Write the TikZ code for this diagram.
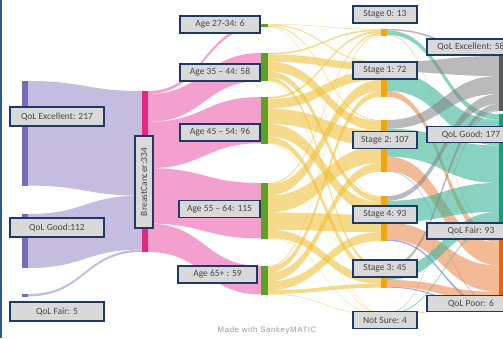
\documentclass[tikz,border=0pt]{standalone}
\usepackage{fontspec}
\setmainfont{Carlito}
\newfontfamily\sankeyfont[LetterSpace=8]{Liberation Sans}
\usepackage{tikz}
% couleurs du diagramme
\definecolor{cadre}{RGB}{31,56,100}
\definecolor{fond}{RGB}{217,217,217}
\definecolor{texte}{RGB}{70,70,70}
\definecolor{bord}{RGB}{47,85,151}
\definecolor{mauve}{RGB}{120,108,178}
\definecolor{lavande}{RGB}{196,189,224}
\definecolor{fuchsia}{RGB}{228,40,128}
\definecolor{rose}{RGB}{238,120,185}
\definecolor{vert}{RGB}{92,160,40}
\definecolor{jaune}{RGB}{238,188,45}
\definecolor{ambre}{RGB}{236,168,16}
\definecolor{gris}{RGB}{130,130,130}
\definecolor{grisfonce}{RGB}{90,90,90}
\definecolor{turquoise}{RGB}{60,180,150}
\definecolor{emeraude}{RGB}{24,158,118}
\definecolor{saumon}{RGB}{235,140,80}
\definecolor{brique}{RGB}{226,100,20}
\definecolor{pervenche}{RGB}{120,110,200}
\newcommand\ech{0.482}   % pixels par patiente
\newcommand\echEx{1}     % colonne de droite, étirée
\newcommand\echGo{0.644}
\newcommand\echFa{0.753}
\newcommand\echPo{1}
% bande : x1, haut1, largeur1, x2, haut2, largeur2, style
\newcommand\flux[7]{%
  \fill[#7] (#1,{#2}) .. controls ({(#1+#4)/2},{#2}) and ({(#1+#4)/2},{#5}) .. (#4,{#5})
    -- (#4,{#5+#6}) .. controls ({(#1+#4)/2},{#5+#6}) and ({(#1+#4)/2},{#2+#3}) .. (#1,{#2+#3}) -- cycle;}
\newcommand\lien[6]{\flux{#1}{#2}{#5*\ech}{#3}{#4}{#5*\ech}{#6}}
\tikzset{
  etiq/.style={draw=cadre, line width=1.1pt, fill=fond, text=texte, inner sep=0pt,
               font=\fontsize{9.5}{11}\selectfont},
  barre/.style={anchor=north west, inner sep=0pt, minimum width=6pt},
  fqol/.style={fill=lavande},
  fage/.style={fill=rose, fill opacity=.7},
  fstage/.style={fill=jaune, fill opacity=.55},
  fex/.style={fill=gris, fill opacity=.55},
  fgood/.style={fill=turquoise, fill opacity=.6},
  ffair/.style={fill=saumon, fill opacity=.6},
  fpoor/.style={fill=pervenche, fill opacity=.6}
}

\begin{document}
\begin{tikzpicture}[x=1pt,y=-1pt]
\useasboundingbox (0,0) rectangle (503,338);
\clip (0,0) rectangle (503,338);
\draw[bord, line width=2.5pt] (1.2,0) -- (1.2,338);

% QoL -> BreastCancer
\lien{28}{81}{142}{91}{217}{fqol}
\lien{28}{214}{142}{91+217*\ech}{112}{fqol}
\lien{28}{294}{142}{91+329*\ech}{5}{fqol}

% BreastCancer -> âges
\lien{148}{91}{261}{24}{6}{fage}
\lien{148}{91+6*\ech}{261}{53}{58}{fage}
\lien{148}{91+64*\ech}{261}{97}{96}{fage}
\lien{148}{91+160*\ech}{261}{183}{115}{fage}
\lien{148}{91+275*\ech}{261}{266}{59}{fage}

% âges -> stades
\lien{268}{24}{381}{29}{1}{fstage}
\lien{268}{24+1*\ech}{381}{62}{2}{fstage}
\lien{268}{24+3*\ech}{381}{120}{2}{fstage}
\lien{268}{24+5*\ech}{381}{196}{1}{fstage}
\lien{268}{53}{381}{29+1*\ech}{3}{fstage}
\lien{268}{53+3*\ech}{381}{62+2*\ech}{15}{fstage}
\lien{268}{53+18*\ech}{381}{120+2*\ech}{20}{fstage}
\lien{268}{53+38*\ech}{381}{196+1*\ech}{12}{fstage}
\lien{268}{53+50*\ech}{381}{266}{7}{fstage}
\lien{268}{53+57*\ech}{381}{313}{1}{fstage}
\lien{268}{97}{381}{29+4*\ech}{4}{fstage}
\lien{268}{97+4*\ech}{381}{62+17*\ech}{20}{fstage}
\lien{268}{97+24*\ech}{381}{120+22*\ech}{32}{fstage}
\lien{268}{97+56*\ech}{381}{196+13*\ech}{26}{fstage}
\lien{268}{97+82*\ech}{381}{266+7*\ech}{13}{fstage}
\lien{268}{97+95*\ech}{381}{313+1*\ech}{1}{fstage}
\lien{268}{183}{381}{29+8*\ech}{3}{fstage}
\lien{268}{183+3*\ech}{381}{62+37*\ech}{23}{fstage}
\lien{268}{183+26*\ech}{381}{120+54*\ech}{35}{fstage}
\lien{268}{183+61*\ech}{381}{196+39*\ech}{36}{fstage}
\lien{268}{183+97*\ech}{381}{266+20*\ech}{17}{fstage}
\lien{268}{183+114*\ech}{381}{313+2*\ech}{1}{fstage}
\lien{268}{266}{381}{29+11*\ech}{2}{fstage}
\lien{268}{266+2*\ech}{381}{62+60*\ech}{12}{fstage}
\lien{268}{266+14*\ech}{381}{120+89*\ech}{18}{fstage}
\lien{268}{266+32*\ech}{381}{196+75*\ech}{18}{fstage}
\lien{268}{266+50*\ech}{381}{266+37*\ech}{8}{fstage}
\lien{268}{266+58*\ech}{381}{313+3*\ech}{1}{fstage}

% stades -> QoL après traitement
\flux{387}{29}{3*\ech}{499}{53}{3*\echEx}{fex}
\flux{387}{29+3*\ech}{9*\ech}{499}{114}{9*\echGo}{fgood}
\flux{387}{29+12*\ech}{1*\ech}{499}{233}{1*\echFa}{ffair}
\flux{387}{62}{20*\ech}{499}{53+3*\echEx}{20*\echEx}{fex}
\flux{387}{62+20*\ech}{40*\ech}{499}{114+9*\echGo}{40*\echGo}{fgood}
\flux{387}{62+60*\ech}{12*\ech}{499}{233+1*\echFa}{12*\echFa}{ffair}
\flux{387}{120}{18*\ech}{499}{53+23*\echEx}{18*\echEx}{fex}
\flux{387}{120+18*\ech}{58*\ech}{499}{114+49*\echGo}{58*\echGo}{fgood}
\flux{387}{120+76*\ech}{30*\ech}{499}{233+13*\echFa}{30*\echFa}{ffair}
\flux{387}{120+106*\ech}{1*\ech}{499}{305}{1*\echPo}{fpoor}
\flux{387}{196}{10*\ech}{499}{53+41*\echEx}{10*\echEx}{fex}
\flux{387}{196+10*\ech}{45*\ech}{499}{114+107*\echGo}{45*\echGo}{fgood}
\flux{387}{196+55*\ech}{35*\ech}{499}{233+43*\echFa}{35*\echFa}{ffair}
\flux{387}{196+90*\ech}{3*\ech}{499}{305+1*\echPo}{3*\echPo}{fpoor}
\flux{387}{266}{6*\ech}{499}{53+51*\echEx}{6*\echEx}{fex}
\flux{387}{266+6*\ech}{23*\ech}{499}{114+152*\echGo}{23*\echGo}{fgood}
\flux{387}{266+29*\ech}{14*\ech}{499}{233+78*\echFa}{14*\echFa}{ffair}
\flux{387}{266+43*\ech}{2*\ech}{499}{305+4*\echPo}{2*\echPo}{fpoor}
\flux{387}{313}{1*\ech}{499}{53+57*\echEx}{1*\echEx}{fex}
\flux{387}{313+1*\ech}{2*\ech}{499}{114+175*\echGo}{2*\echGo}{fgood}
\flux{387}{313+3*\ech}{1*\ech}{499}{233+92*\echFa}{1*\echFa}{ffair}

% barres
\node[barre, fill=mauve, minimum height=104.6pt] (qexg) at (22,81) {};
\node[barre, fill=mauve, minimum height=54pt] (qgog) at (22,214) {};
\node[barre, fill=mauve, minimum height=2.4pt] (qfag) at (22,294) {};
\node[barre, fill=fuchsia, minimum height=161pt] (bc) at (142,91) {};
\node[barre, fill=vert, minimum width=7pt, minimum height=2.9pt] (age1) at (261,24) {};
\node[barre, fill=vert, minimum width=7pt, minimum height=28pt] (age2) at (261,53) {};
\node[barre, fill=vert, minimum width=7pt, minimum height=46.3pt] (age3) at (261,97) {};
\node[barre, fill=vert, minimum width=7pt, minimum height=55.4pt] (age4) at (261,183) {};
\node[barre, fill=vert, minimum width=7pt, minimum height=28.4pt] (age5) at (261,266) {};
\node[barre, fill=ambre, minimum height=6.3pt] (st0) at (381,29) {};
\node[barre, fill=ambre, minimum height=34.7pt] (st1) at (381,62) {};
\node[barre, fill=ambre, minimum height=51.6pt] (st2) at (381,120) {};
\node[barre, fill=ambre, minimum height=44.8pt] (st4) at (381,196) {};
\node[barre, fill=ambre, minimum height=21.7pt] (st3) at (381,266) {};
\node[barre, fill=ambre, minimum height=1.9pt] (stns) at (381,313) {};
\node[barre, fill=grisfonce, minimum width=5pt, minimum height=58pt] (qexd) at (499,53) {};
\node[barre, fill=emeraude, minimum width=5pt, minimum height=114pt] (qgod) at (499,114) {};
\node[barre, fill=brique, minimum width=5pt, minimum height=70pt] (qfad) at (499,233) {};
\node[barre, fill=pervenche, minimum width=5pt, minimum height=6pt] (qpod) at (499,305) {};

% étiquettes
\node[etiq, minimum width=94pt, minimum height=19pt] (lexg) at (57,116.5) {QoL Excellent: 217};
\node[etiq, minimum width=94pt, minimum height=19pt] (lgog) at (57,227.5) {QoL Good:112};
\node[etiq, minimum width=94pt, minimum height=19pt] (lfag) at (57,311.5) {QoL Fair: 5};
\node[etiq, rotate=90, minimum width=92pt, minimum height=18pt] (lbc) at (144,182) {BreastCancer:334};
\node[etiq, minimum width=80pt, minimum height=17pt] (lage1) at (220,24.5) {Age 27-34: 6};
\node[etiq, minimum width=80pt, minimum height=17pt] (lage2) at (220,72.5) {Age 35 – 44: 58};
\node[etiq, minimum width=80pt, minimum height=17pt] (lage3) at (220,132.5) {Age 45 – 54: 96};
\node[etiq, minimum width=81pt, minimum height=17pt] (lage4) at (219.5,209) {Age 55 – 64: 115};
\node[etiq, minimum width=79pt, minimum height=17pt] (lage5) at (217.5,274.5) {Age 65+ : 59};
\node[etiq, minimum width=64pt, minimum height=17pt] (lst0) at (385,14.5) {Stage 0: 13};
\node[etiq, minimum width=64pt, minimum height=17pt] (lst1) at (385,70.5) {Stage 1: 72};
\node[etiq, minimum width=64pt, minimum height=17pt] (lst2) at (385,140) {Stage 2: 107};
\node[etiq, minimum width=64pt, minimum height=17pt] (lst4) at (385,214.5) {Stage 4: 93};
\node[etiq, minimum width=64pt, minimum height=17pt] (lst3) at (385,268.5) {Stage 3: 45};
\node[etiq, minimum width=64pt, minimum height=17pt] (lstns) at (385,320) {Not Sure: 4};
\node[etiq, minimum width=88pt, minimum height=16pt] (lexd) at (471,47) {QoL Excellent: 58};
\node[etiq, minimum width=88pt, minimum height=16pt] (lgod) at (471,134.5) {QoL Good: 177};
\node[etiq, minimum width=88pt, minimum height=16pt] (lfad) at (471,231) {QoL Fair: 93};
\node[etiq, minimum width=88pt, minimum height=16pt] (lpod) at (471,303.5) {QoL Poor: 6};

\node[text=gray!80, font=\sankeyfont\fontsize{7.8}{9}\selectfont] (credit) at (267,330) {Made with SankeyMATIC};
\end{tikzpicture}
\end{document}
